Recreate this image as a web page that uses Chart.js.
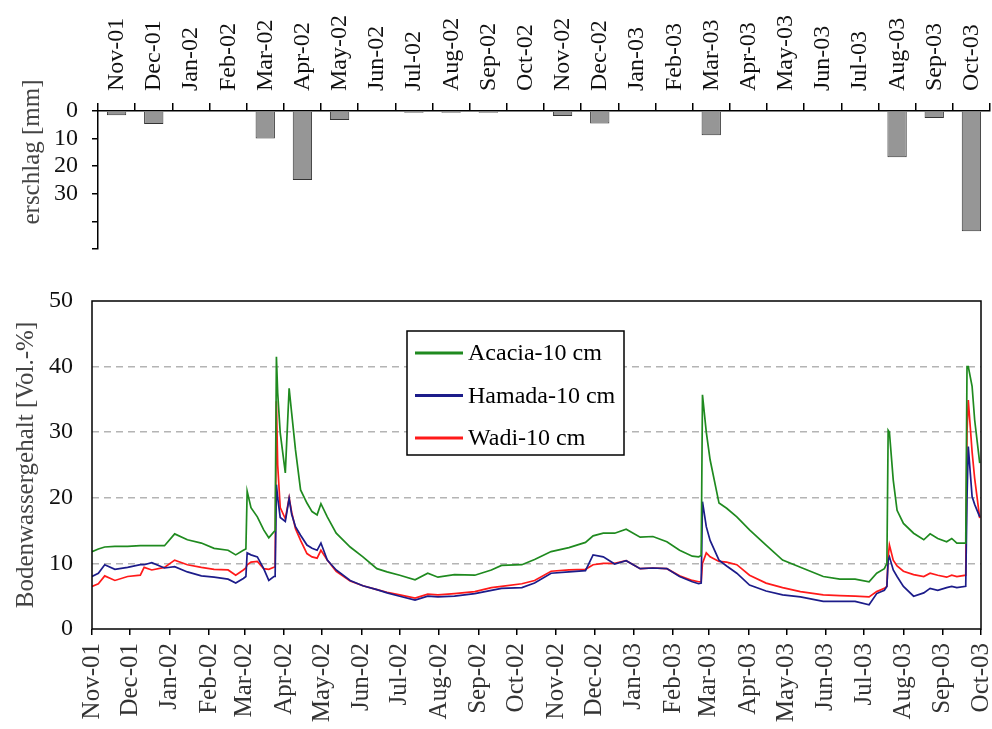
<!DOCTYPE html>
<html>
<head>
<meta charset="utf-8">
<script src="https://cdn.jsdelivr.net/npm/chart.js@4.4.1/dist/chart.umd.min.js"></script>
<style>
  html, body { margin: 0; padding: 0; background: #fff; }
  #wrap { position: relative; width: 992px; height: 729px; }
  #rainBox { position: absolute; left: 0; top: 0; width: 992px; height: 260px; }
  #soilBox { position: absolute; left: 0; top: 260px; width: 992px; height: 469px; }
</style>
</head>
<body>
<div id="wrap">
  <div id="rainBox"><canvas id="rainChart"></canvas></div>
  <div id="soilBox"><canvas id="soilChart"></canvas></div>
</div>
<script>
// Monate (Nov 2001 - Okt 2003)
const monthLabels = ['Nov-01', 'Dec-01', 'Jan-02', 'Feb-02', 'Mar-02', 'Apr-02', 'May-02', 'Jun-02',
  'Jul-02', 'Aug-02', 'Sep-02', 'Oct-02', 'Nov-02', 'Dec-02', 'Jan-03', 'Feb-03', 'Mar-03', 'Apr-03',
  'May-03', 'Jun-03', 'Jul-03', 'Aug-03', 'Sep-03', 'Oct-03'];
// Tage seit 1.11.2001 am Monatsanfang
const monthStartDays = [0, 30, 61, 92, 120, 151, 181, 212, 242, 273, 304, 334, 365, 395, 426, 457,
  485, 516, 546, 577, 607, 638, 669, 699];

// Niederschlag pro Monat [mm]
const rainMm = [1.5, 4.7, 0, 0, 10, 25, 3.3, 0, 0.6, 0.6, 0.6, 0, 1.8, 4.5, 0, 0, 8.8, 0, 0, 0, 0, 16.8, 2.5, 43.6];

// Bodenwassergehalt [Vol.-%], Messtage seit 1.11.2001
const days = [0, 5, 10, 18, 28, 38, 41, 47, 57, 65, 75, 86, 96, 107, 113, 119, 121,
  122, 125, 130, 135, 139, 143, 144, 145, 146, 148,
  152, 155, 157, 160, 164, 169, 173, 177, 180, 185,
  192, 203, 213, 224, 232, 242, 254, 264, 272, 285,
  301, 314, 322, 338, 348, 361, 375, 388, 394, 402,
  411, 420, 431, 441, 452, 462, 472, 477, 479, 480,
  483, 486, 493, 499, 507, 517, 530, 543, 557, 575,
  588, 600, 611, 617, 623, 625, 626, 627, 630, 633,
  638, 646, 654, 659, 665, 672, 676, 680, 687, 688,
  689, 692, 694, 698];
const acacia = [11.8, 12.2, 12.5, 12.6, 12.6, 12.7, 12.7, 12.7, 12.7, 14.5, 13.6, 13.1, 12.3, 12.0, 11.3, 12.0, 12.2,
  21.0, 18.5, 17.1, 15.1, 13.9, 14.8, 15.0, 41.5, 36.0, 29.9,
  23.8, 36.7, 32.9, 27.3, 21.2, 19.2, 17.9, 17.4, 19.1, 17.1,
  14.6, 12.5, 11.0, 9.2, 8.7, 8.2, 7.5, 8.5, 7.9, 8.3,
  8.2, 9.0, 9.7, 9.8, 10.6, 11.8, 12.4, 13.2, 14.2, 14.6,
  14.6, 15.2, 14.0, 14.1, 13.3, 12.0, 11.1, 11.0, 11.2, 35.7,
  30.0, 25.8, 19.2, 18.4, 17.1, 15.1, 12.8, 10.5, 9.4, 8.0,
  7.6, 7.6, 7.2, 8.5, 9.2, 10.0, 30.3, 30.0, 22.7, 18.1,
  16.1, 14.6, 13.6, 14.5, 13.8, 13.3, 13.8, 13.1, 13.1, 40.0,
  40.0, 37.0, 31.9, 25.3];
const hamada = [8.0, 8.5, 9.8, 9.1, 9.4, 9.8, 9.8, 10.1, 9.3, 9.5, 8.7, 8.1, 7.9, 7.6, 7.0, 7.7, 8.0,
  11.6, 11.3, 11.0, 9.2, 7.4, 8.0, 8.0, 22.0, 20.0, 17.0,
  16.4, 19.9, 17.5, 15.6, 14.3, 12.8, 12.3, 12.0, 13.1, 10.5,
  9.0, 7.4, 6.6, 6.0, 5.5, 5.0, 4.4, 5.0, 4.9, 5.0,
  5.4, 5.9, 6.2, 6.3, 7.0, 8.5, 8.7, 8.9, 11.3, 11.0,
  9.9, 10.4, 9.2, 9.3, 9.2, 8.0, 7.2, 6.9, 7.0, 19.4,
  15.6, 13.5, 10.5, 9.6, 8.5, 6.7, 5.8, 5.2, 4.9, 4.2,
  4.2, 4.2, 3.7, 5.4, 5.9, 6.5, 10.5, 11.0, 9.0, 8.0,
  6.5, 5.0, 5.5, 6.2, 5.9, 6.3, 6.5, 6.3, 6.5, 20.0,
  27.8, 20.2, 19.0, 17.1];
const wadi = [6.5, 6.9, 8.1, 7.4, 8.0, 8.2, 9.4, 9.0, 9.4, 10.5, 9.8, 9.4, 9.1, 9.0, 8.2, 9.0, 9.3,
  9.8, 10.2, 10.3, 9.2, 9.1, 9.4, 9.5, 34.7, 25.0, 18.5,
  16.8, 20.0, 17.8, 15.3, 13.5, 11.5, 11.0, 10.8, 12.0, 10.5,
  8.8, 7.3, 6.6, 6.0, 5.6, 5.2, 4.7, 5.3, 5.2, 5.4,
  5.7, 6.3, 6.5, 6.9, 7.4, 8.8, 9.0, 9.1, 9.8, 10.0,
  10.0, 10.4, 9.2, 9.3, 9.2, 8.1, 7.4, 7.2, 7.2, 10.0,
  11.6, 11.0, 10.3, 10.2, 9.8, 8.2, 7.0, 6.3, 5.7, 5.2,
  5.1, 5.0, 4.9, 5.7, 6.2, 6.5, 11.0, 12.8, 10.5, 9.6,
  8.8, 8.3, 8.0, 8.5, 8.2, 7.9, 8.2, 8.0, 8.2, 30.0,
  34.9, 27.0, 23.0, 16.9];

const serif = '"Liberation Serif", "Times New Roman", serif';
Chart.defaults.font.family = serif;
Chart.defaults.font.size = 24;
Chart.defaults.color = '#111';
Chart.defaults.animation = false;

const toPoints = vals => vals.map((v, i) => ({ x: days[i], y: v }));

// Achsentitel oben (abgeschnitten wie im Original)
const rainTitle = {
  id: 'rainTitle',
  afterDraw(chart) {
    const ctx = chart.ctx;
    ctx.save();
    ctx.translate(32, 152);
    ctx.rotate(-Math.PI / 2);
    ctx.font = '25px ' + serif;
    ctx.fillStyle = '#444';
    ctx.textAlign = 'center';
    ctx.textBaseline = 'middle';
    ctx.fillText('erschlag [mm]', 0, 0);
    ctx.restore();
  }
};

// Rahmen um die Zeichenfläche
const frame = {
  id: 'frame',
  afterDatasetsDraw(chart) {
    const { ctx, chartArea: a } = chart;
    ctx.save();
    ctx.strokeStyle = '#000';
    ctx.lineWidth = 1.5;
    ctx.strokeRect(a.left, a.top, a.right - a.left, a.bottom - a.top);
    ctx.restore();
  }
};

// Legende mit Kasten innerhalb des Diagramms
const boxLegend = {
  id: 'boxLegend',
  afterDraw(chart) {
    const ctx = chart.ctx;
    const x = 407, y = 71, w = 217, h = 124;
    ctx.save();
    ctx.fillStyle = '#fff';
    ctx.fillRect(x, y, w, h);
    ctx.strokeStyle = '#000';
    ctx.lineWidth = 1.5;
    ctx.strokeRect(x, y, w, h);
    ctx.font = '24px ' + serif;
    ctx.textBaseline = 'middle';
    chart.data.datasets.forEach((ds, i) => {
      const cy = y + 22 + i * 42.5;
      ctx.strokeStyle = ds.borderColor;
      ctx.lineWidth = 3;
      ctx.beginPath();
      ctx.moveTo(x + 8, cy);
      ctx.lineTo(x + 56, cy);
      ctx.stroke();
      ctx.fillStyle = '#000';
      ctx.fillText(ds.label, x + 61, cy + 1);
    });
    ctx.restore();
  }
};

// Randabstände der Achsen ignorieren, damit die Zeichenfläche fest sitzt
const noPad = s => {
  s.paddingLeft = 0;
  s.paddingRight = 0;
  s.paddingTop = 0;
  s.paddingBottom = 0;
};

// Niederschlag (Balken nach unten)
new Chart(document.getElementById('rainChart'), {
  type: 'bar',
  data: {
    labels: monthLabels,
    datasets: [{
      data: rainMm,
      backgroundColor: '#969696',
      borderColor: '#333',
      borderWidth: 1,
      categoryPercentage: 1,
      barPercentage: 0.52
    }]
  },
  options: {
    responsive: true,
    maintainAspectRatio: false,
    layout: { padding: { top: 0, right: 2, bottom: 11, left: 0 } },
    plugins: { legend: { display: false }, tooltip: { enabled: false } },
    scales: {
      x: {
        position: 'top',
        afterFit: s => { s.height = 111; noPad(s); },
        grid: { drawOnChartArea: false, color: '#000', tickLength: 8, lineWidth: 1.5 },
        border: { color: '#000', width: 1.5 },
        ticks: { minRotation: 90, maxRotation: 90, autoSkip: false, padding: 12, labelOffset: 29, font: { size: 24 } }
      },
      y: {
        reverse: true,
        min: 0,
        max: 50,
        afterFit: s => { s.width = 98; noPad(s); },
        grid: { drawOnChartArea: false, color: '#000', tickLength: 6, lineWidth: 1.5 },
        border: { color: '#000', width: 1.5 },
        ticks: {
          stepSize: 10,
          padding: 14,
          autoSkip: false,
          font: { size: 24 },
          callback: v => (v <= 30 ? v : '')
        }
      }
    }
  },
  plugins: [rainTitle]
});

// Bodenwassergehalt
new Chart(document.getElementById('soilChart'), {
  type: 'line',
  data: {
    datasets: [
      { label: 'Acacia-10 cm', data: toPoints(acacia), borderColor: '#1f8a1f', borderWidth: 1.7, pointRadius: 0, tension: 0 },
      { label: 'Hamada-10 cm', data: toPoints(hamada), borderColor: '#1c1c8a', borderWidth: 1.7, pointRadius: 0, tension: 0 },
      { label: 'Wadi-10 cm', data: toPoints(wadi), borderColor: '#ff1a1a', borderWidth: 1.7, pointRadius: 0, tension: 0 }
    ]
  },
  options: {
    responsive: true,
    maintainAspectRatio: false,
    layout: { padding: { top: 41, right: 11, bottom: 0, left: 0 } },
    plugins: { legend: { display: false }, tooltip: { enabled: false } },
    scales: {
      x: {
        type: 'linear',
        min: 0,
        max: 699,
        afterFit: s => { s.height = 100; noPad(s); },
        afterBuildTicks: s => { s.ticks = monthStartDays.map(v => ({ value: v })); },
        grid: { drawOnChartArea: false, color: '#000', tickLength: 6, lineWidth: 1.5 },
        border: { display: false },
        ticks: {
          minRotation: 90,
          maxRotation: 90,
          autoSkip: false,
          padding: 8,
          color: '#333',
          font: { size: 25 },
          callback: (v, i) => monthLabels[i]
        }
      },
      y: {
        min: 0,
        max: 50,
        afterFit: s => { s.width = 92; noPad(s); },
        grid: {
          drawTicks: false,
          lineWidth: 1.5,
          color: c => (c.tick.value === 0 || c.tick.value === 50 ? 'rgba(0,0,0,0)' : '#b4b4b4')
        },
        border: { display: false, dash: [7, 5] },
        ticks: { stepSize: 10, padding: 19, font: { size: 24 } },
        title: {
          display: true,
          text: 'Bodenwassergehalt [Vol.-%]',
          color: '#444',
          font: { size: 25 },
          padding: { top: 11, bottom: 0 }
        }
      }
    }
  },
  plugins: [frame, boxLegend]
});
</script>
</body>
</html>
